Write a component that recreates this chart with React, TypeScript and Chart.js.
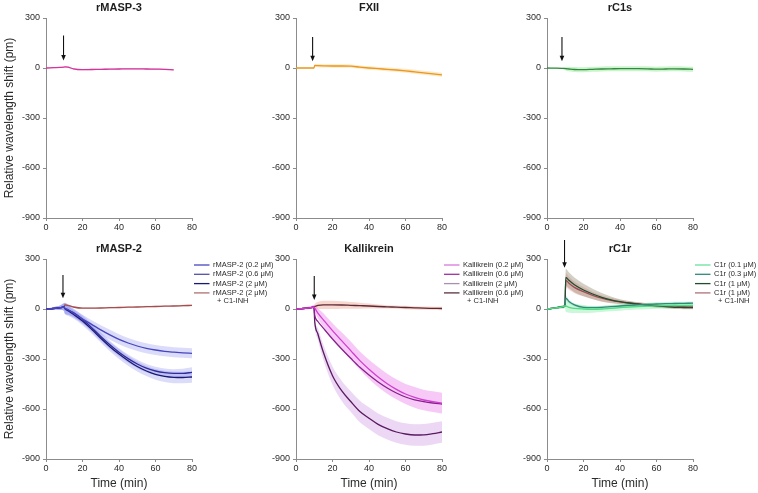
import React, { useEffect, useRef } from 'react';
import { Chart, registerables } from 'chart.js';
Chart.register(...registerables);

const FONT = '"Liberation Sans", Arial, Helvetica, sans-serif';

// ---------- data ----------
const TIME = [0, 4, 8, 9.8, 10.3, 12, 15, 20, 25, 30, 35, 40, 45, 50, 55, 60, 65, 70, 75, 80];
const TIME_TO70 = [0, 4, 8, 9.8, 10.3, 12, 15, 20, 25, 30, 35, 40, 45, 50, 55, 60, 65, 70];

const X_TICKS = [0, 20, 40, 60, 80];
const Y_TICKS = [300, 0, -300, -600, -900];

const masp3Mean = [0, 2, 4, 5, 7, 5, -5, -10, -9, -8, -7, -6, -5, -5, -6, -7, -8, -11];
const masp3Sd = [3, 3, 3, 3, 4, 4, 4, 4, 4, 4, 4, 4, 4, 4, 4, 4, 4, 4];

const fxiiMean = [0, 0, 0, 0, 15, 14, 13, 12, 12, 11, 5, 0, -4, -8, -12, -17, -23, -29, -35, -41];
const fxiiSd = [2, 2, 2, 2, 8, 10, 10, 10, 10, 10, 10, 10, 10, 11, 11, 12, 12, 12, 12, 12];

const c1sMean = [0, -1, -2, -3, -4, -6, -9, -10, -8, -6, -5, -4, -4, -4, -5, -7, -6, -5, -6, -8];
const c1sSd = [2, 3, 4, 5, 12, 14, 15, 15, 15, 15, 15, 15, 15, 15, 15, 15, 15, 15, 15, 15];

const masp2LowMean = [0, 3, 8, 12, 5, -3, -25, -60, -92, -125, -155, -182, -204, -222, -236, -246, -254, -259, -263, -266];
const masp2LowSd = [3, 8, 14, 22, 32, 30, 25, 25, 25, 28, 30, 30, 30, 30, 30, 30, 30, 30, 30, 30];
const masp2MidMean = [0, 3, 8, 12, 5, -5, -22, -62, -112, -165, -215, -260, -298, -330, -355, -372, -382, -386, -386, -380];
const masp2MidSd = [3, 8, 14, 22, 32, 30, 25, 25, 25, 25, 25, 25, 25, 25, 25, 25, 25, 25, 28, 30];
const masp2HighMean = [0, 3, 8, 12, 2, -10, -32, -72, -122, -176, -226, -270, -310, -345, -372, -392, -404, -410, -411, -408];
const masp2HighSd = [3, 8, 14, 22, 32, 30, 25, 25, 25, 25, 28, 30, 30, 30, 30, 32, 34, 35, 35, 35];
const masp2InhMean = [0, 3, 8, 12, 25, 22, 12, 5, 5, 6, 8, 9, 11, 12, 14, 15, 17, 18, 20, 22];
const masp2InhSd = [3, 4, 5, 5, 6, 6, 5, 5, 5, 5, 5, 5, 5, 5, 5, 5, 5, 5, 5, 5];

const kalLowMean = [0, 3, 8, 12, 5, -25, -65, -130, -190, -250, -310, -362, -408, -448, -482, -510, -530, -546, -556, -565];
const kalLowSd = [3, 5, 8, 10, 20, 30, 40, 45, 50, 55, 55, 58, 60, 60, 60, 60, 62, 62, 62, 62];
const kalMidMean = [0, 3, 8, 12, -40, -75, -115, -180, -240, -296, -350, -396, -438, -474, -504, -528, -545, -556, -564, -570];
const kalHighMean = [0, 3, 8, 12, -80, -150, -260, -400, -490, -555, -615, -655, -692, -718, -738, -750, -756, -755, -748, -738];
const kalHighSd = [3, 5, 8, 10, 20, 35, 45, 55, 60, 62, 65, 65, 65, 65, 65, 65, 65, 65, 65, 65];
const kalInhMean = [0, 3, 8, 12, 15, 22, 25, 25, 24, 22, 20, 18, 15, 13, 11, 9, 7, 5, 4, 3];
const kalInhSd = [3, 4, 5, 6, 15, 20, 25, 25, 22, 20, 18, 15, 12, 10, 10, 10, 10, 10, 10, 10];

const c1rLowMean = [0, 5, 12, 18, 18, 10, 4, 0, -2, 0, 4, 8, 12, 15, 17, 19, 20, 21, 22, 22];
const c1rLowSd = [3, 5, 8, 10, 35, 32, 28, 24, 20, 18, 18, 18, 18, 18, 18, 18, 18, 18, 18, 18];
const c1rMidMean = [0, 5, 12, 18, 65, 45, 25, 10, 8, 10, 14, 18, 22, 25, 28, 30, 32, 33, 34, 35];
const c1rMidSd = [3, 4, 6, 8, 15, 12, 10, 10, 10, 10, 10, 10, 10, 10, 10, 10, 10, 10, 10, 10];
const c1rHighMean = [0, 5, 12, 18, 190, 172, 145, 114, 90, 70, 55, 44, 36, 30, 23, 18, 14, 10, 9, 8];
const c1rHighSd = [3, 5, 8, 10, 50, 48, 44, 38, 32, 26, 20, 15, 12, 10, 10, 10, 10, 10, 10, 10];
const c1rInhMean = [0, 5, 12, 18, 172, 155, 130, 104, 82, 65, 52, 43, 36, 30, 25, 20, 16, 13, 12, 12];
const c1rInhSd = [3, 5, 8, 10, 42, 40, 35, 28, 22, 18, 15, 12, 10, 10, 10, 10, 10, 10, 10, 10];

// ---------- panels ----------
type Series = { label: string; time: number[]; mean: number[]; sd?: number[]; color: string; band?: string; legend?: string };
type PanelCfg = {
  title: string; left: number; top: number; width: number; height: number;
  yWidth: number; padTop: number; padRight: number; xHeight: number;
  yTitle: boolean; xTitle: boolean; arrow: { x: number; from: number; to: number };
  series: Series[]; showLegend: boolean;
};

const PANELS: PanelCfg[] = [
  {
    title: 'rMASP-3', left: 0, top: 0, width: 290, height: 240, yWidth: 46, padTop: 18, padRight: 98, xHeight: 22,
    yTitle: true, xTitle: false, arrow: { x: 9.6, from: 195, to: 45 }, showLegend: false,
    series: [{ label: 'rMASP-3', time: TIME_TO70, mean: masp3Mean, sd: masp3Sd, color: '#d2369a', band: 'rgba(240,140,205,0.55)' }],
  },
  {
    title: 'FXII', left: 250, top: 0, width: 290, height: 240, yWidth: 46, padTop: 18, padRight: 98, xHeight: 22,
    yTitle: false, xTitle: false, arrow: { x: 9.1, from: 186, to: 40 }, showLegend: false,
    series: [{ label: 'FXII', time: TIME, mean: fxiiMean, sd: fxiiSd, color: '#e8981e', band: 'rgba(252,205,130,0.45)' }],
  },
  {
    title: 'rC1s', left: 500, top: 0, width: 258, height: 240, yWidth: 47, padTop: 18, padRight: 65, xHeight: 22,
    yTitle: false, xTitle: false, arrow: { x: 8.2, from: 186, to: 40 }, showLegend: false,
    series: [{ label: 'rC1s', time: TIME, mean: c1sMean, sd: c1sSd, color: '#2e8a3c', band: 'rgba(120,225,120,0.38)' }],
  },
  {
    title: 'rMASP-2', left: 0, top: 240, width: 290, height: 253, yWidth: 46, padTop: 19, padRight: 98, xHeight: 34,
    yTitle: true, xTitle: true, arrow: { x: 9.3, from: 204, to: 64 }, showLegend: true,
    series: [
      { label: 'rMASP-2 (0.2 \u03bcM)', time: TIME, mean: masp2LowMean, sd: masp2LowSd, color: '#4646c0', band: 'rgba(110,110,235,0.25)' },
      { label: 'rMASP-2 (0.6 \u03bcM)', time: TIME, mean: masp2MidMean, sd: masp2MidSd, color: '#2e2e98', band: 'rgba(110,110,235,0.25)', legend: '#5050a8' },
      { label: 'rMASP-2 (2 \u03bcM)', time: TIME, mean: masp2HighMean, sd: masp2HighSd, color: '#1a1a74', band: 'rgba(110,110,235,0.25)' },
      { label: 'rMASP-2 (2 \u03bcM)', time: TIME, mean: masp2InhMean, sd: masp2InhSd, color: '#a34f4f', band: 'rgba(220,150,150,0.35)', legend: '#b07070' },
    ],
  },
  {
    title: 'Kallikrein', left: 250, top: 240, width: 290, height: 253, yWidth: 46, padTop: 19, padRight: 98, xHeight: 34,
    yTitle: false, xTitle: true, arrow: { x: 10, from: 198, to: 54 }, showLegend: true,
    series: [
      { label: 'Kallikrein (0.2 \u03bcM)', time: TIME, mean: kalLowMean, sd: kalLowSd, color: '#d13fd1', band: 'rgba(232,120,232,0.4)', legend: '#d878dc' },
      { label: 'Kallikrein (0.6 \u03bcM)', time: TIME, mean: kalMidMean, color: '#86208c', legend: '#9c309c' },
      { label: 'Kallikrein (2 \u03bcM)', time: TIME, mean: kalHighMean, sd: kalHighSd, color: '#5a1a60', band: 'rgba(205,150,225,0.38)', legend: '#a890b0' },
      { label: 'Kallikrein (0.6 \u03bcM)', time: TIME, mean: kalInhMean, sd: kalInhSd, color: '#5c2a36', band: 'rgba(238,160,140,0.42)', legend: '#5a3040' },
    ],
  },
  {
    title: 'rC1r', left: 500, top: 240, width: 258, height: 253, yWidth: 47, padTop: 19, padRight: 65, xHeight: 34,
    yTitle: false, xTitle: true, arrow: { x: 9.6, from: 440, to: 247 }, showLegend: true,
    series: [
      { label: 'C1r (0.1 \u03bcM)', time: TIME, mean: c1rLowMean, sd: c1rLowSd, color: '#4fdc86', band: 'rgba(100,230,140,0.32)', legend: '#66e0a0' },
      { label: 'C1r (0.3 \u03bcM)', time: TIME, mean: c1rMidMean, sd: c1rMidSd, color: '#2f8a78', band: 'rgba(100,200,170,0.25)' },
      { label: 'C1r (1 \u03bcM)', time: TIME, mean: c1rHighMean, sd: c1rHighSd, color: '#1f4d2e', band: 'rgba(140,130,100,0.38)' },
      { label: 'C1r (1 \u03bcM)', time: TIME, mean: c1rInhMean, sd: c1rInhSd, color: '#9c4d58', band: 'rgba(235,150,150,0.38)', legend: '#b07078' },
    ],
  },
];

const AXIS_COLOR = '#8c8c8c';
const TEXT_COLOR = '#2b2b2b';

function Panel({ cfg }: { cfg: PanelCfg }) {
  const ref = useRef<HTMLCanvasElement>(null);
  useEffect(() => {
    if (!ref.current) return;
    const datasets: any[] = [];
    cfg.series.forEach((s) => {
      if (s.sd) {
        datasets.push({
          data: s.time.map((t, i) => ({ x: t, y: s.mean[i] + s.sd![i] })),
          borderColor: 'transparent', borderWidth: 0, pointRadius: 0, fill: false,
          cubicInterpolationMode: 'monotone', order: 1,
        });
        datasets.push({
          data: s.time.map((t, i) => ({ x: t, y: s.mean[i] - s.sd![i] })),
          borderColor: 'transparent', borderWidth: 0, pointRadius: 0, fill: '-1',
          backgroundColor: s.band, cubicInterpolationMode: 'monotone', order: 1,
        });
      }
    });
    cfg.series.forEach((s) => {
      datasets.push({
        data: s.time.map((t, i) => ({ x: t, y: s.mean[i] })),
        borderColor: s.color, borderWidth: 1.3, pointRadius: 0, fill: false,
        cubicInterpolationMode: 'monotone', order: 0,
      });
    });

    const overlay = {
      id: 'overlay',
      afterDraw(chart: any) {
        const { ctx, chartArea } = chart;
        const xs = chart.scales.x, ys = chart.scales.y;
        ctx.save();
        // title
        ctx.fillStyle = '#1e1e1e';
        ctx.font = `bold 11px ${FONT}`;
        ctx.textAlign = 'center';
        ctx.textBaseline = 'middle';
        ctx.fillText(cfg.title, (chartArea.left + chartArea.right) / 2, chartArea.top - 10.5);
        // arrow
        const px = xs.getPixelForValue(cfg.arrow.x);
        const y1 = ys.getPixelForValue(cfg.arrow.from);
        const y2 = ys.getPixelForValue(cfg.arrow.to);
        ctx.strokeStyle = '#111';
        ctx.fillStyle = '#111';
        ctx.lineWidth = 1.1;
        ctx.beginPath();
        ctx.moveTo(px, y1);
        ctx.lineTo(px, y2 - 4);
        ctx.stroke();
        ctx.beginPath();
        ctx.moveTo(px - 2.3, y2 - 5.5);
        ctx.lineTo(px + 2.3, y2 - 5.5);
        ctx.lineTo(px, y2);
        ctx.closePath();
        ctx.fill();
        // legend
        if (cfg.showLegend) {
          ctx.font = `7.5px ${FONT}`;
          ctx.textAlign = 'left';
          ctx.textBaseline = 'middle';
          const x0 = chartArea.right + 2;
          let y = chartArea.top + 6;
          cfg.series.forEach((s) => {
            ctx.strokeStyle = s.legend || s.color;
            ctx.lineWidth = 1.3;
            ctx.beginPath();
            ctx.moveTo(x0, y);
            ctx.lineTo(x0 + 15.5, y);
            ctx.stroke();
            ctx.fillStyle = TEXT_COLOR;
            ctx.fillText(s.label, x0 + 19, y);
            y += 9.3;
          });
          ctx.fillText('+ C1-INH', x0 + 23, y - 1);
        }
        ctx.restore();
      },
    };

    const chart = new Chart(ref.current, {
      type: 'line',
      data: { datasets },
      plugins: [overlay],
      options: {
        animation: false,
        responsive: false,
        events: [],
        layout: { padding: { left: 0, top: cfg.padTop, right: cfg.padRight, bottom: 0 } },
        plugins: {
          legend: { display: false },
          tooltip: { enabled: false },
          title: { display: false },
          filler: { drawTime: 'beforeDatasetsDraw' },
        } as any,
        scales: {
          x: {
            type: 'linear', min: 0, max: 80,
            afterFit: (s: any) => { s.height = cfg.xHeight; },
            afterBuildTicks: (s: any) => { s.ticks = X_TICKS.map((v) => ({ value: v })); },
            ticks: { color: TEXT_COLOR, font: { family: FONT, size: 9 }, padding: 1, maxRotation: 0 },
            grid: { drawOnChartArea: false, drawTicks: true, tickLength: 3, color: AXIS_COLOR },
            border: { color: AXIS_COLOR, width: 1 },
            title: {
              display: cfg.xTitle, text: 'Time (min)', color: TEXT_COLOR,
              font: { family: FONT, size: 12 }, padding: { top: 0, bottom: 2 },
            },
          },
          y: {
            type: 'linear', min: -900, max: 300,
            afterFit: (s: any) => { s.width = cfg.yWidth; },
            afterBuildTicks: (s: any) => { s.ticks = Y_TICKS.map((v) => ({ value: v })); },
            ticks: { color: TEXT_COLOR, font: { family: FONT, size: 9 }, padding: 3 },
            grid: { drawOnChartArea: false, drawTicks: true, tickLength: 3, color: AXIS_COLOR },
            border: { color: AXIS_COLOR, width: 1 },
            title: {
              display: cfg.yTitle, text: 'Relative wavelength shift (pm)', color: TEXT_COLOR,
              font: { family: FONT, size: 12 }, padding: { top: 2, bottom: 0 },
            },
          },
        },
      } as any,
    });
    return () => chart.destroy();
  }, [cfg]);
  return (
    <canvas
      ref={ref}
      width={cfg.width}
      height={cfg.height}
      style={{ position: 'absolute', left: cfg.left, top: cfg.top, width: cfg.width, height: cfg.height }}
    />
  );
}

export default function App() {
  return (
    <div style={{ position: 'fixed', left: 0, top: 0, width: 758, height: 493, background: '#fff', overflow: 'hidden' }}>
      {PANELS.map((p) => (
        <Panel key={p.title} cfg={p} />
      ))}
    </div>
  );
}
